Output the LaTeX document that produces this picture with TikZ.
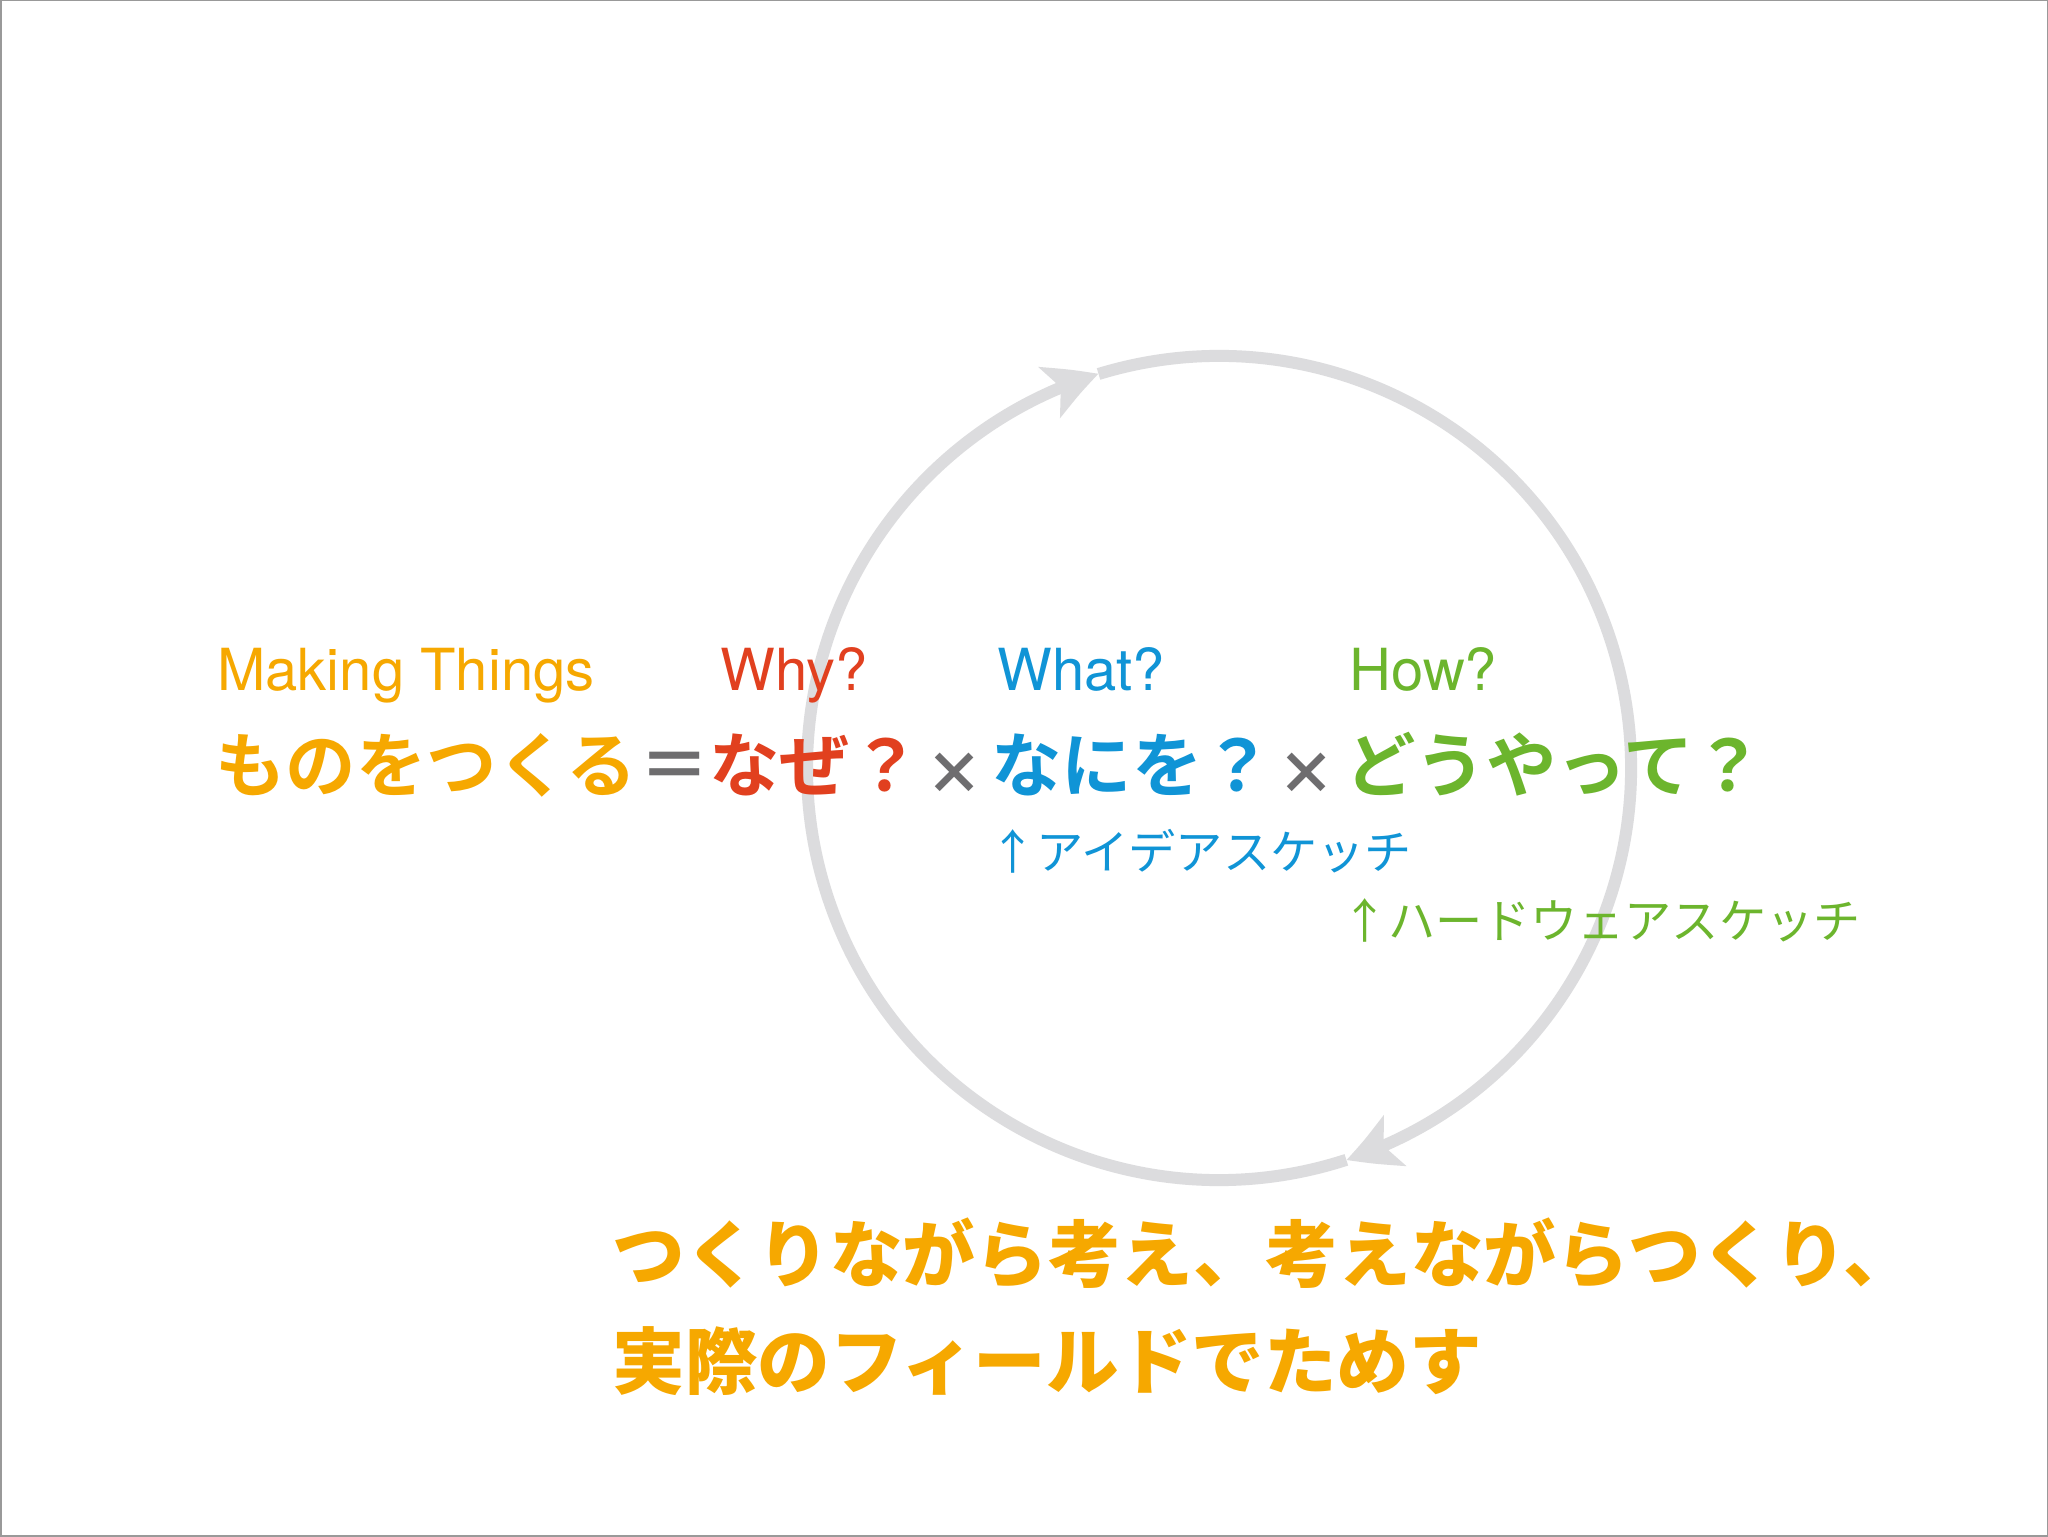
\documentclass[tikz,border=0pt]{standalone}
\usepackage{fontspec}
\usetikzlibrary{arrows.meta,bending}
\setmainfont{TeX Gyre Heros}
\newfontfamily\jpbold{Noto Sans CJK JP Bold}
\newfontfamily\jpreg{Noto Sans CJK JP}
\newfontfamily\jpblack{Noto Sans CJK JP Black}
\definecolor{cOrange}{RGB}{246,168,0}
\definecolor{cRed}{RGB}{225,64,31}
\definecolor{cBlue}{RGB}{16,148,214}
\definecolor{cGreen}{RGB}{108,181,45}
\definecolor{cGray}{RGB}{110,109,111}
\definecolor{cCircle}{RGB}{220,220,222}
\tikzset{
  lbl/.style={inner sep=0pt, anchor=base west, font=\fontsize{29pt}{34pt}\selectfont},
  mainjp/.style={inner sep=0pt, anchor=base west, font=\jpbold\fontsize{35.2pt}{40pt}\selectfont},
  times/.style={inner sep=0pt, anchor=center, text=cGray, font=\jpblack\fontsize{29pt}{34pt}\selectfont},
  subjp/.style={inner sep=0pt, anchor=base west, font=\jpreg\fontsize{23.6pt}{28pt}\selectfont},
  bigjp/.style={inner sep=0pt, anchor=base west, text=cOrange, font=\jpblack\fontsize{36.3pt}{42pt}\selectfont},
  cycle/.style={draw=cCircle, line width=6pt, -{Stealth[length=26pt,width=27pt,inset=6pt,bend]}}
}
\begin{document}
\begin{tikzpicture}[x=0.5pt,y=0.5pt]
\useasboundingbox (0,0) rectangle (2048,1536);
\fill[white] (0,0) rectangle (2048,1536);
\draw[gray!80, line width=1pt] (0.5,0.5) rectangle (2047.5,1535.5);
% cycle
\coordinate (c) at (1219,768);
\coordinate (pbot) at ([shift={(288:206pt)}]c);
\coordinate (ptop) at ([shift={(107:206pt)}]c);
\draw[cycle] (pbot) arc[start angle=288, end angle=107, radius=206pt];
\draw[cycle] (ptop) arc[start angle=107, end angle=-72, radius=206pt];
% labels
\node[lbl, text=cOrange] (lmake) at (217,1536-691) {Making Things};
\node[lbl, text=cRed] (lwhy) at (720,1536-691) {Why?};
\node[lbl, text=cBlue] (lwhat) at (997,1536-691) {What?};
\node[lbl, text=cGreen] (lhow) at (1349,1536-691) {How?};
% main line
\node[mainjp, text=cOrange] (mono) at (215,1536-792) {ものをつくる};
\node[mainjp, text=cGray] (eq) at (639,1536-792) {＝};
\node[mainjp, text=cRed] (naze) at (709,1536-792) {なぜ？};
\node[times] (x1) at (954,1536-774) {×};
\node[mainjp, text=cBlue] (nani) at (991,1536-792) {なにを？};
\node[times] (x2) at (1306,1536-774) {×};
\node[mainjp, text=cGreen] (dou) at (1345,1536-792) {どうやって？};
% sub labels
\node[subjp, text=cBlue] (idea) at (989,1536-870) {↑アイデアスケッチ};
\node[subjp, text=cGreen] (hard) at (1341,1536-939) {↑ハードウェアスケッチ};
% bottom text
\node[bigjp] (b1) at (612,1536-1281) {つくりながら考え、考えながらつくり、};
\node[bigjp] (b2) at (612,1536-1388) {実際のフィールドでためす};
\end{tikzpicture}
\end{document}
